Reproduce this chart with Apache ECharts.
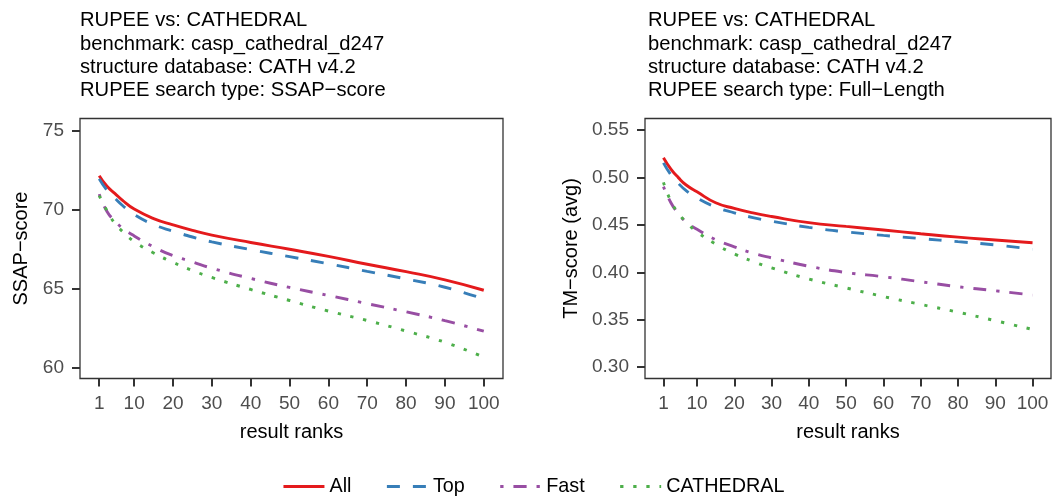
<!DOCTYPE html>
<html>
<head>
<meta charset="utf-8">
<script src="https://cdn.jsdelivr.net/npm/echarts@6/dist/echarts.min.js"></script>
<style>
html,body{margin:0;padding:0;background:#fff;}
#chart{width:1052px;height:497px;}
</style>
</head>
<body>
<div id="chart"></div>
<script>
// ---- data ----
const ranks = [1, 3, 5, 7, 10, 15, 20, 25, 30, 40, 50, 60, 70, 80, 90, 100];
const xTicks = [1, 10, 20, 30, 40, 50, 60, 70, 80, 90, 100];
const seriesNames = ['All', 'Top', 'Fast', 'CATHEDRAL'];

const ssapAll  = [72.17, 71.50, 71.05, 70.60, 70.05, 69.45, 69.05, 68.70, 68.40, 67.93, 67.50, 67.05, 66.55, 66.08, 65.56, 64.90];
const ssapTop  = [71.97, 71.25, 70.75, 70.28, 69.70, 69.07, 68.65, 68.28, 67.97, 67.48, 67.03, 66.58, 66.10, 65.62, 65.09, 64.35];
const ssapFast = [71.00, 69.90, 69.30, 68.85, 68.35, 67.65, 67.10, 66.70, 66.30, 65.65, 65.08, 64.57, 64.05, 63.53, 62.97, 62.30];
const ssapCath = [70.90, 69.95, 69.15, 68.63, 68.00, 67.27, 66.67, 66.15, 65.71, 64.95, 64.25, 63.58, 62.98, 62.31, 61.60, 60.65];
const ssapTicks = [60, 65, 70, 75];

const tmAll  = [0.521, 0.509, 0.500, 0.4925, 0.485, 0.4735, 0.4675, 0.4628, 0.459, 0.4525, 0.4485, 0.4447, 0.4408, 0.4372, 0.4342, 0.4313];
const tmTop  = [0.5155, 0.503, 0.494, 0.4865, 0.4785, 0.469, 0.4628, 0.4578, 0.454, 0.4475, 0.4428, 0.439, 0.4357, 0.4324, 0.429, 0.4243];
const tmFast = [0.4905, 0.4735, 0.462, 0.4535, 0.4455, 0.4345, 0.427, 0.4203, 0.4153, 0.4065, 0.3998, 0.3954, 0.3901, 0.3849, 0.3806, 0.376];
const tmCath = [0.495, 0.475, 0.4625, 0.4535, 0.4428, 0.4298, 0.4195, 0.4115, 0.4047, 0.393, 0.3836, 0.3745, 0.3662, 0.358, 0.349, 0.3398];
const tmTicks = [0.30, 0.35, 0.40, 0.45, 0.50, 0.55];

const titleLeft = 'RUPEE vs: CATHEDRAL\nbenchmark: casp_cathedral_d247\nstructure database: CATH v4.2\nRUPEE search type: SSAP\u2212score';
const titleRight = 'RUPEE vs: CATHEDRAL\nbenchmark: casp_cathedral_d247\nstructure database: CATH v4.2\nRUPEE search type: Full\u2212Length';

// ---- styling ----
const FONT = 'Liberation Sans, Arial, Helvetica, sans-serif';
const colors = ['#E41A1C', '#377EB8', '#984EA3', '#4DAF4A'];
const dashes = ['solid', [13, 13], [3.3, 9.9, 13.2, 9.9], [3.3, 9.8]];
const LW = 2.9;

function pairs(vals) { return ranks.map((r, i) => [r, vals[i]]); }

function xAxisCfg(gi) {
  return {
    type: 'value', gridIndex: gi, min: -3.95, max: 104.95,
    name: 'result ranks', nameLocation: 'middle', nameGap: 43.5,
    nameTextStyle: { fontFamily: FONT, fontSize: 20, color: '#000' },
    axisLine: { show: false, onZero: false },
    axisTick: { show: true, length: 8, lineStyle: { color: '#333', width: 2 }, customValues: xTicks },
    axisLabel: { fontFamily: FONT, fontSize: 19, color: '#4D4D4D', margin: 16, customValues: xTicks },
    splitLine: { show: false }
  };
}
function yAxisCfg(gi, name, min, max, ticks, gap, fmt) {
  return {
    type: 'value', gridIndex: gi, min: min, max: max,
    name: name, nameLocation: 'middle', nameGap: gap, nameRotate: 90,
    nameTextStyle: { fontFamily: FONT, fontSize: 20, color: '#000' },
    axisLine: { show: false, onZero: false },
    axisTick: { show: true, length: 8, lineStyle: { color: '#333', width: 2 }, customValues: ticks },
    axisLabel: { fontFamily: FONT, fontSize: 19, color: '#4D4D4D', margin: 16, customValues: ticks, formatter: fmt },
    splitLine: { show: false }
  };
}
function lineSeries(i, gi, vals) {
  return {
    name: seriesNames[i], type: 'line', xAxisIndex: gi, yAxisIndex: gi,
    data: pairs(vals), showSymbol: false, symbol: 'none',
    smooth: 0.5,
    lineStyle: { color: colors[i], width: LW, type: dashes[i], cap: 'butt' },
    itemStyle: { color: colors[i] },
    emphasis: { disabled: true }, animation: false
  };
}

const chart = echarts.init(document.getElementById('chart'), null, { renderer: 'canvas' });
chart.setOption({
  animation: false,
  backgroundColor: '#fff',
  title: [
    { text: titleLeft, left: 80, top: 9, padding: 0,
      textStyle: { fontFamily: FONT, fontSize: 20.2, lineHeight: 23.3, fontWeight: 'normal', color: '#000' } },
    { text: titleRight, left: 648, top: 9, padding: 0,
      textStyle: { fontFamily: FONT, fontSize: 20.2, lineHeight: 23.3, fontWeight: 'normal', color: '#000' } }
  ],
  grid: [
    { left: 80, top: 118.5, width: 423, height: 260, show: true, borderColor: '#333', borderWidth: 1.3, containLabel: false },
    { left: 645, top: 118.5, width: 406, height: 260, show: true, borderColor: '#333', borderWidth: 1.3, containLabel: false }
  ],
  xAxis: [xAxisCfg(0), xAxisCfg(1)],
  yAxis: [
    yAxisCfg(0, 'SSAP\u2212score', 59.3, 75.8, ssapTicks, 49, v => String(v)),
    yAxisCfg(1, 'TM\u2212score (avg)', 0.288, 0.5624, tmTicks, 64, v => v.toFixed(2))
  ],
  legend: {
    data: seriesNames, left: 282, top: 476.5, padding: 0,
    itemWidth: 41, itemHeight: 20, itemGap: 34,
    itemStyle: { opacity: 0 },
    lineStyle: { width: 2.9 },
    textStyle: { fontFamily: FONT, fontSize: 19.8, color: '#000' },
    selectedMode: false
  },
  series: [
    lineSeries(0, 0, ssapAll), lineSeries(1, 0, ssapTop), lineSeries(2, 0, ssapFast), lineSeries(3, 0, ssapCath),
    lineSeries(0, 1, tmAll), lineSeries(1, 1, tmTop), lineSeries(2, 1, tmFast), lineSeries(3, 1, tmCath)
  ]
});
</script>
</body>
</html>
